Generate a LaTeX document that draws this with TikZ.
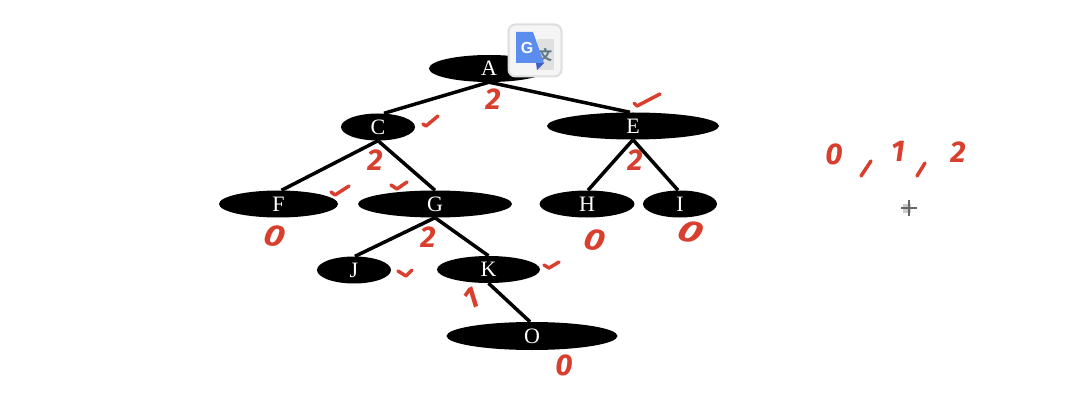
\documentclass[tikz,border=0pt]{standalone}
\usepackage{fontspec}
\setmainfont{Liberation Serif}
\newfontfamily\handfont{Fira Sans}
\newfontfamily\iconfont{Liberation Sans}
\newfontfamily\cjkfont{Noto Sans CJK SC}
\usetikzlibrary{shapes.geometric}
\definecolor{penred}{HTML}{D93F2E}
\definecolor{gblue}{HTML}{5B8DEF}
\definecolor{gdark}{HTML}{3F5FC4}
\definecolor{gslate}{HTML}{5F7A85}
\tikzset{
  main/.style = {ellipse, fill=black, text=white, inner sep=0pt, font=\fontsize{22}{22}\selectfont},
  link/.style = {line width=3.5pt, black},
  penstroke/.style = {line width=3.5pt, penred, line cap=round, line join=round},
  tally/.style = {text=penred, inner sep=0pt, font=\handfont\itshape\bfseries\fontsize{30}{30}\selectfont},
}
\begin{document}
\begin{tikzpicture}[x=1pt,y=-1pt]
    \useasboundingbox (0,0) rectangle (1070,406);

    \node[main, minimum width=120pt, minimum height=27pt] (A) at (489,68.5) {A};
    \node[main, minimum width=74pt, minimum height=27pt] (C) at (378,127) {C};
    \node[main, minimum width=172pt, minimum height=27pt] (E) at (633,126) {E};
    \node[main, minimum width=119pt, minimum height=27pt] (F) at (278.5,204) {F};
    \node[main, minimum width=154pt, minimum height=27pt] (G) at (435,204) {G};
    \node[main, minimum width=95pt, minimum height=27pt] (H) at (587,204) {H};
    \node[main, minimum width=74pt, minimum height=27pt] (I) at (680,204) {I};
    \node[main, minimum width=74pt, minimum height=27pt] (J) at (354,270) {J};
    \node[main, minimum width=103pt, minimum height=27pt] (K) at (488.5,269.5) {K};
    \node[main, minimum width=171pt, minimum height=28pt] (O) at (532,336) {O};

    \draw[link]
    (A.south) -- ([xshift=6pt]C.north)
    (A.south) -- ([xshift=-3pt]E.north)
    (C.south) -- ([xshift=3pt]F.north)
    (C.south) -- (G.north)
    (E.south) -- ([xshift=1pt]H.north)
    (E.south) -- ([xshift=-2pt]I.north)
    (G.south) -- ([xshift=1pt]J.north)
    (G.south) -- (K.north)
    (K.south) -- ([xshift=-2pt]O.north)
    ;

    % tallies
    \node[tally] (cA) at (493,99) {2};
    \node[tally] (cC) at (375,160) {2};
    \node[tally] (cG) at (428,237) {2};
    \node[tally] (cE) at (635,160) {2};
    \node[tally, xscale=1.2, rotate=-10] (cF) at (275,236) {0};
    \node[tally, xscale=1.2, rotate=-10] (cH) at (595,240) {0};
    \node[tally, xscale=1.4, rotate=-15] (cI) at (691,232) {0};
    \node[tally, rotate=25] (cK) at (471,298) {1};
    \node[tally] (cO) at (564,365) {0};
    \node[tally] (n0) at (834,154) {0};
    \node[tally] (n1) at (898,151) {1};
    \node[tally] (n2) at (958,152) {2};

    % ticks and the two separators
    \draw[penstroke] (634,103) -- (637,106) -- (660,94);
    \draw[penstroke] (423,124) -- (426,126) -- (438,116);
    \draw[penstroke] (331,192) -- (335,195) -- (349,186);
    \draw[penstroke] (391,185) -- (397,189) -- (407,182);
    \draw[penstroke] (398,271) -- (406,276) -- (412,270);
    \draw[penstroke] (544,265) -- (549,268) -- (559,262);
    \draw[penstroke] (871,161) -- (861,176);
    \draw[penstroke] (925,163) -- (917,176);

    % cursor
    \fill[black!20] (903,204) rectangle (911,213);
    \draw[line width=1.5pt, black!60] (901,208) -- (917,208) (909,200) -- (909,216);

    % translate badge
    \node[draw=black!13, line width=2pt, fill=black!4, rounded corners=7pt, minimum width=53pt, minimum height=52pt] (badge) at (535,50.5) {};
    \fill[black!12] (537,39) rectangle (554,70);
    \node[text=gslate, inner sep=0pt, font=\cjkfont\bfseries\fontsize{14}{14}\selectfont] (wen) at (545,55) {文};
    \fill[gdark] (536,63) -- (544,63) -- (537,70) -- cycle;
    \fill[gblue] (516,32) -- (533,32) -- (544,63) -- (516,63) -- cycle;
    \node[text=white, inner sep=0pt, font=\iconfont\bfseries\fontsize{16}{16}\selectfont] (gee) at (527,47.5) {G};
\end{tikzpicture}
\end{document}
